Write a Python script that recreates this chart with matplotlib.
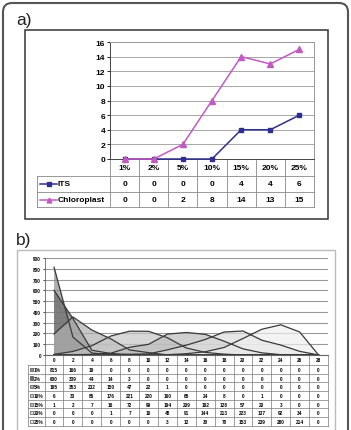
import matplotlib
matplotlib.use('Agg')
import matplotlib.pyplot as plt
from matplotlib.patches import FancyBboxPatch, Rectangle

plt.rcParams['font.family'] = ['Liberation Sans', 'DejaVu Sans']

W, H = 351, 431

# panel a data
conc = ['1%', '2%', '5%', '10%', '15%', '20%', '25%']
its = [0, 0, 0, 0, 4, 4, 6]
chloro = [0, 0, 2, 8, 14, 13, 15]

# panel b data
pos = ['0', '2', '4', '6', '8', '10', '12', '14', '16', '18', '20', '22', '24', '26', '28']
b_names = ['1%', '2%', '5%', '10%', '15%', '20%', '25%']
b_1 = [815, 166, 19, 0, 0, 0, 0, 0, 0, 0, 0, 0, 0, 0, 0]
b_2 = [600, 339, 44, 14, 3, 0, 0, 0, 0, 0, 0, 0, 0, 0, 0]
b_5 = [195, 353, 232, 150, 47, 22, 1, 0, 0, 0, 0, 0, 0, 0, 0]
b_10 = [6, 33, 86, 176, 221, 220, 160, 65, 24, 8, 0, 1, 0, 0, 0]
b_15 = [1, 2, 7, 16, 72, 99, 194, 209, 192, 128, 57, 20, 3, 0, 0]
b_20 = [0, 0, 0, 1, 7, 10, 48, 91, 144, 213, 223, 137, 92, 34, 0]
b_25 = [0, 0, 0, 0, 0, 0, 3, 12, 30, 70, 153, 239, 280, 214, 0]
b_series = [b_1, b_2, b_5, b_10, b_15, b_20, b_25]
b_fill = ['#8c8c8c', '#6a6a6a', '#b0b0b0', '#c6c6c6', '#bcbcbc', '#dcdcdc', '#eeeeee']


def box(x0, y0, x1, y1):
    return [x0 / W, 1 - y1 / H, (x1 - x0) / W, (y1 - y0) / H]


fig = plt.figure(figsize=(W / 100, H / 100), dpi=100)
fig.patch.set_facecolor('white')

# overlay in pixel coords for frames and tables
ov = fig.add_axes([0, 0, 1, 1])
ov.set_xlim(0, W)
ov.set_ylim(H, 0)
ov.axis('off')

ov.add_patch(FancyBboxPatch((3, 4), 345, 450, boxstyle='round,pad=0,rounding_size=9',
                            fill=False, edgecolor='#555555', lw=1.5))
ov.add_patch(Rectangle((25, 31), 303, 189, fill=False, edgecolor='#333333', lw=1.1))
ov.add_patch(Rectangle((17, 251), 318, 200, fill=False, edgecolor='#bbbbbb', lw=1.0))
ov.text(16, 21, 'a)', fontsize=12.5, va='center', ha='left', color='#222222')
ov.text(16, 241, 'b)', fontsize=12.5, va='center', ha='left', color='#222222')

# ---- panel a chart
axa = fig.add_axes(box(110, 43, 314, 160))
x = list(range(len(conc)))
axa.plot(x, its, color='#2f2f8f', marker='s', markersize=3.2, lw=1.1, clip_on=False, zorder=3)
axa.plot(x, chloro, color='#c25ac2', marker='^', markersize=3.8, lw=1.1, clip_on=False, zorder=3)
axa.set_xlim(-0.5, len(conc) - 0.5)
axa.set_ylim(0, 16)
axa.set_yticks(range(0, 17, 2))
axa.set_xticks([])
axa.tick_params(axis='y', labelsize=6, length=2, pad=1.5, width=0.6)
for lab in axa.get_yticklabels():
    lab.set_fontweight('bold')
axa.grid(axis='y', color='#999999', lw=0.6)
axa.set_axisbelow(True)
for s in axa.spines.values():
    s.set_color('#999999')
    s.set_linewidth(0.7)
axa.spines['left'].set_color('#444444')
axa.spines['bottom'].set_color('#444444')

# panel a table
ta_x0, ta_x1 = 110, 314
cw = (ta_x1 - ta_x0) / len(conc)
rows_y = [160, 177, 193, 208]
lc = '#888888'
fs = 6
for i in range(len(conc) + 1):
    ov.plot([ta_x0 + i * cw] * 2, [160, 208], color=lc, lw=0.6)
ov.plot([37, 37], [177, 208], color=lc, lw=0.6)
for yy in rows_y[1:]:
    ov.plot([37, ta_x1], [yy, yy], color=lc, lw=0.6)
for i, c in enumerate(conc):
    cx = ta_x0 + (i + 0.5) * cw
    ov.text(cx, 168.5, c, fontsize=fs, ha='center', va='center', fontweight='bold')
    ov.text(cx, 185, str(its[i]), fontsize=fs, ha='center', va='center', fontweight='bold')
    ov.text(cx, 200.5, str(chloro[i]), fontsize=fs, ha='center', va='center', fontweight='bold')
ov.plot([40, 57], [185, 185], color='#2f2f8f', lw=1.1)
ov.plot([48.5], [185], color='#2f2f8f', marker='s', markersize=3)
ov.text(57.5, 185, 'ITS', fontsize=fs, ha='left', va='center', fontweight='bold')
ov.plot([40, 57], [200.5, 200.5], color='#c25ac2', lw=1.1)
ov.plot([48.5], [200.5], color='#c25ac2', marker='^', markersize=3.5)
ov.text(57.5, 200.5, 'Chloroplast', fontsize=fs, ha='left', va='center', fontweight='bold')

# ---- panel b chart
axb = fig.add_axes(box(44.6, 259, 328, 356))
xb = list(range(len(pos)))
for vals, col in zip(b_series, b_fill):
    axb.fill_between(xb, vals, 0, facecolor=col, alpha=0.7, edgecolor='none', zorder=2)
for vals in b_series:
    axb.plot(xb, vals, color='#3a3a3a', lw=0.9, zorder=3)
axb.set_xlim(-0.5, len(pos) - 0.5)
axb.set_ylim(0, 900)
axb.set_yticks(range(0, 901, 100))
axb.set_xticks([])
axb.tick_params(axis='y', labelsize=3.4, length=1.5, pad=1, width=0.5)
for lab in axb.get_yticklabels():
    lab.set_fontweight('bold')
axb.grid(axis='y', color='#9a9a9a', lw=0.8)
axb.set_axisbelow(True)
for s in ['top', 'right']:
    axb.spines[s].set_visible(False)
axb.spines['left'].set_color('#666666')
axb.spines['bottom'].set_color('#666666')
axb.spines['left'].set_linewidth(0.6)

# panel b table
tb_x0, tb_x1 = 44.6, 328
cwb = (tb_x1 - tb_x0) / len(pos)
rh = 8.7
ry = [366 + k * rh for k in range(len(b_names) + 1)]
lcb = '#777777'
fsb = 3.4
for i in range(len(pos) + 1):
    ov.plot([tb_x0 + i * cwb] * 2, [356, ry[-1]], color=lcb, lw=0.5)
ov.plot([28, 28], [366, ry[-1]], color=lcb, lw=0.5)
for yy in ry:
    ov.plot([28, tb_x1], [yy, yy], color=lcb, lw=0.5)
for i, p in enumerate(pos):
    ov.text(tb_x0 + (i + 0.5) * cwb, 361, p, fontsize=fsb, ha='center', va='center', fontweight='bold')
for k, (name, vals, col) in enumerate(zip(b_names, b_series, b_fill)):
    yc = ry[k] + rh / 2
    ov.add_patch(Rectangle((29.5, yc - 1.6), 3.2, 3.2, facecolor=col, edgecolor='#333333', lw=0.4))
    ov.text(33.5, yc, name, fontsize=fsb, ha='left', va='center', fontweight='bold')
    for i, v in enumerate(vals):
        ov.text(tb_x0 + (i + 0.5) * cwb, yc, str(v), fontsize=fsb, ha='center', va='center', fontweight='bold')

fig.savefig('out.png', dpi=100)
